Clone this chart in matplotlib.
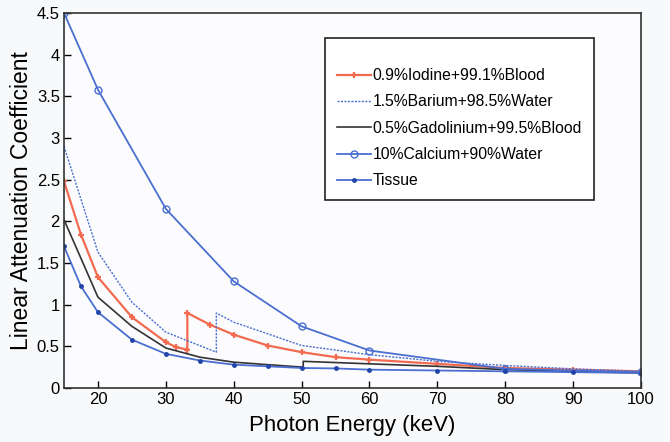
import matplotlib
matplotlib.use('Agg')
import matplotlib.pyplot as plt

plt.rcParams['font.family'] = ['Liberation Sans', 'DejaVu Sans']

# 数据
iodine_e = [15, 17.5, 20, 25, 30, 31.5, 33.17, 33.17, 36.5, 40, 45, 50, 55, 60, 70, 80, 90, 100]
iodine_mu = [2.48, 1.84, 1.33, 0.85, 0.55, 0.49, 0.46, 0.90, 0.76, 0.64, 0.51, 0.43, 0.37, 0.34, 0.29, 0.24, 0.22, 0.20]

barium_e = [15, 20, 25, 30, 37.44, 37.44, 40, 50, 60, 70, 80, 90, 100]
barium_mu = [2.90, 1.63, 1.03, 0.67, 0.43, 0.90, 0.79, 0.51, 0.40, 0.32, 0.27, 0.23, 0.20]

gado_e = [15, 20, 25, 30, 35, 40, 45, 50.24, 50.24, 60, 70, 80, 90, 100]
gado_mu = [2.02, 1.09, 0.74, 0.48, 0.37, 0.31, 0.28, 0.25, 0.32, 0.29, 0.26, 0.22, 0.20, 0.18]

calcium_e = [15, 20, 30, 40, 50, 60, 80, 100]
calcium_mu = [4.50, 3.58, 2.15, 1.28, 0.74, 0.45, 0.23, 0.19]

tissue_e = [15, 17.5, 20, 25, 30, 35, 40, 45, 50, 55, 60, 70, 80, 90, 100]
tissue_mu = [1.70, 1.22, 0.91, 0.58, 0.41, 0.33, 0.28, 0.26, 0.24, 0.235, 0.22, 0.21, 0.20, 0.19, 0.18]

xticks = [20, 30, 40, 50, 60, 70, 80, 90, 100]
yticks = [0, 0.5, 1, 1.5, 2, 2.5, 3, 3.5, 4, 4.5]

red = '#f26a50'
blue = '#4a6fd0'

fig = plt.figure(figsize=(6.7, 4.42), dpi=100, facecolor='#f8f9fb')
ax = fig.add_axes([64 / 670, 54 / 442, 577 / 670, 375 / 442])
ax.set_facecolor('#fcfcfe')

# 碘: 红色 + 标记
ax.plot(iodine_e, iodine_mu, color=red, lw=1.6, marker='+', ms=5, mew=1.6,
        label='0.9%Iodine+99.1%Blood')
# 钡: 蓝色虚线
ax.plot(barium_e, barium_mu, color=blue, lw=1.0, ls=(0, (1.5, 1)),
        label='1.5%Barium+98.5%Water')
# 钆: 黑线
ax.plot(gado_e, gado_mu, color='#333333', lw=1.2,
        label='0.5%Gadolinium+99.5%Blood')
# 钙: 空心圆
ax.plot(calcium_e, calcium_mu, color=blue, lw=1.3, marker='o', ms=5,
        mfc='none', mew=1.0, label='10%Calcium+90%Water')
# 组织: 实心点
ax.plot(tissue_e, tissue_mu, color=blue, lw=1.3, marker='.', ms=5,
        mfc='#2244aa', mec='#2244aa', label='Tissue')

ax.set_xlim(15, 100)
ax.set_ylim(0, 4.5)
ax.set_xticks(xticks)
ax.set_yticks(yticks)
ax.set_yticklabels(['0', '0.5', '1', '1.5', '2', '2.5', '3', '3.5', '4', '4.5'])
ax.tick_params(direction='in', length=5, width=1, labelsize=12, pad=3)
for s in ax.spines.values():
    s.set_linewidth(1.2)
    s.set_color('#333333')

ax.set_xlabel('Photon Energy (keV)', fontsize=16, labelpad=6)
ax.set_ylabel('Linear Attenuation Coefficient', fontsize=16.5, labelpad=3)

# 图例 - 顶部留白用空标题
leg = ax.legend(loc='upper left', bbox_to_anchor=(0.452, 0.933), fontsize=11.3,
                title=' ', title_fontsize=6,
                frameon=True, fancybox=False, edgecolor='#222222',
                handlelength=2.2, handletextpad=0.1, labelspacing=0.72,
                borderpad=0.75, borderaxespad=0, framealpha=1)
leg.get_frame().set_linewidth(1.2)

fig.savefig('out.png', dpi=100, facecolor=fig.get_facecolor())
